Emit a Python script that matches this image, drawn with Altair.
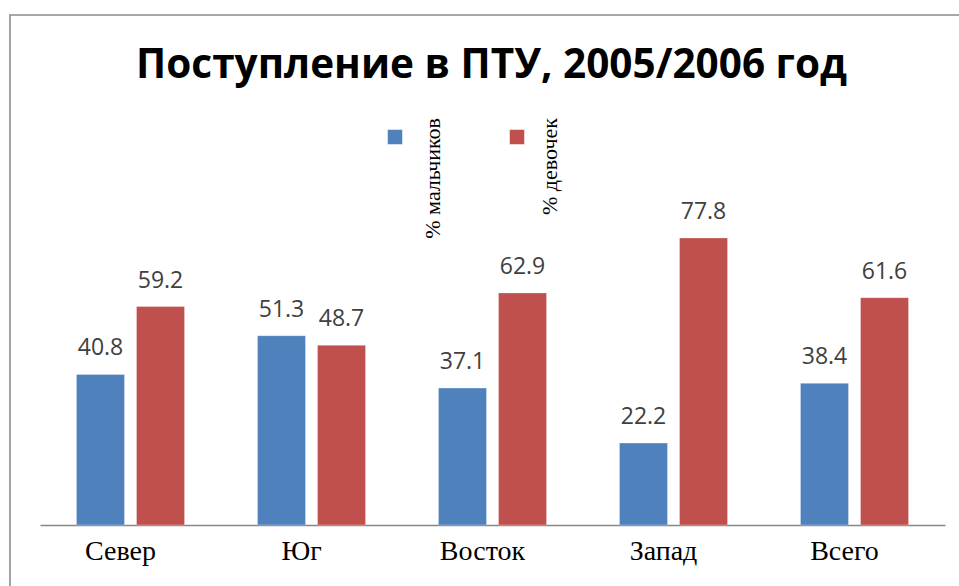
import altair as alt
import pandas as pd

regions = ["Север", "Юг", "Восток", "Запад", "Всего"]
series = ["% мальчиков", "% девочек"]
boys = [40.8, 51.3, 37.1, 22.2, 38.4]
girls = [59.2, 48.7, 62.9, 77.8, 61.6]
colors = ["#4F81BD", "#C0504D"]
title = ["Поступление в ПТУ, 2005/2006 год"]

rows = []
for r, b, g in zip(regions, boys, girls):
    rows.append({"region": r, "series": series[0], "value": b})
    rows.append({"region": r, "series": series[1], "value": g})
df = pd.DataFrame(rows)
leg = pd.DataFrame({"series": series})
tdf = pd.DataFrame({"title": title})

W, H = 905, 369

xs = alt.X("region:N", sort=regions, title=None,
           scale=alt.Scale(paddingInner=0.403, paddingOuter=0.2015),
           axis=alt.Axis(labelAngle=0, ticks=False, domainColor="#868686",
                         domainWidth=1.3, labelFont="Liberation Serif",
                         labelFontSize=28, labelColor="#000000", labelPadding=12,
                         labelOffset=-10, grid=False))
xo = alt.XOffset("series:N", sort=series,
                 scale=alt.Scale(paddingInner=0.2, paddingOuter=0))
ys = alt.Y("value:Q", scale=alt.Scale(domain=[0, 100]), axis=None)
col = alt.Color("series:N", sort=series,
                scale=alt.Scale(domain=series, range=colors), legend=None)

base = alt.Chart(df)
bars = base.mark_bar(stroke="#ffffff", strokeWidth=0.6, strokeOpacity=0.5).encode(
    x=xs, xOffset=xo, y=ys, color=col)
labels = base.mark_text(font="Open Sans", fontSize=23, color="#404040",
                        baseline="alphabetic", dy=-19).encode(
    x=xs, xOffset=xo, y=ys, text=alt.Text("value:Q", format=".1f"))
main = alt.layer(bars, labels)

border = alt.Chart(tdf).mark_rect(fill=None, stroke="#8c8c8c", strokeWidth=1.6).encode(
    x=alt.value(-30), x2=alt.value(1000), y=alt.value(-141), y2=alt.value(500))

title_mark = alt.Chart(tdf).mark_text(font="Open Sans", fontSize=40.5,
                                      fontWeight="bold", color="#000000",
                                      align="center", baseline="alphabetic").encode(
    x=alt.value(W / 2 - 1), y=alt.value(-78), text="title:N")

lx = alt.X("series:N", sort=series,
           scale=alt.Scale(type="point", padding=0, domain=series, range=[355, 477]),
           axis=None)
ltx = alt.X("series:N", sort=series,
            scale=alt.Scale(type="point", padding=0, domain=series, range=[393, 510]),
            axis=None)
lcol = alt.Color("series:N", scale=alt.Scale(domain=series, range=colors), legend=None)
lsq = alt.Chart(leg).mark_square(size=225, opacity=1, stroke="#ffffff",
                                 strokeWidth=0.5).encode(
    x=lx, y=alt.value(-19), color=lcol)
ltext = alt.Chart(leg).mark_text(font="Liberation Serif", fontSize=22, angle=270,
                                 align="right", baseline="middle",
                                 color="#000000").encode(
    x=ltx, y=alt.value(-38), text="series:N")

chart = alt.layer(border, title_mark, main, lsq, ltext).resolve_scale(
    x="independent", color="independent"
).properties(
    width=W, height=H,
    autosize=alt.AutoSizeParams(type="none"),
    padding={"left": 40, "top": 156, "right": 14, "bottom": 61},
).configure_view(stroke=None)

chart.save("out.html", embed_options={"renderer": "svg", "actions": False})
